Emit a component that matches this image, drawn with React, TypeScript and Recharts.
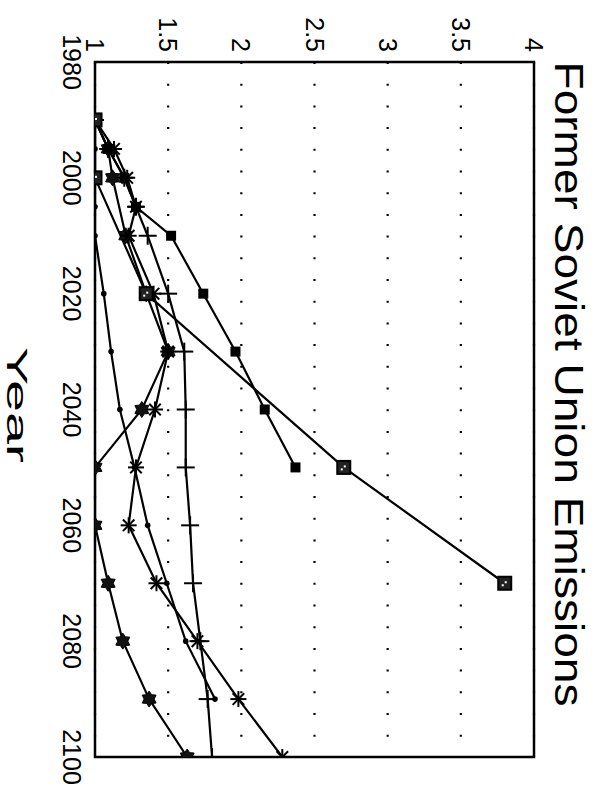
import React from 'react';
import { LineChart, Line, XAxis, YAxis, CartesianGrid, ReferenceArea } from 'recharts';

// Chart is laid out landscape (791 x 595) and turned a quarter clockwise onto the page.
const W = 791;
const H = 595;
const PLOT_LEFT = 62;
const PLOT_TOP = 61;
const PLOT_RIGHT = 757;
const PLOT_BOTTOM = 500;
const FONT = '"Liberation Sans", Arial, Helvetica, sans-serif';

const yearTicks = [1980, 2000, 2020, 2040, 2060, 2080, 2100];
const valueTicks = [1, 1.5, 2, 2.5, 3, 3.5, 4];

// emissions relative to 1990
const bigSquareYears = [1990, 2000, 2020, 2050, 2070];
const bigSquareValues = [1.0, 1.0, 1.35, 2.7, 3.8];

const squareYears = [1990, 1995, 2000, 2005, 2010, 2020, 2030, 2040, 2050];
const squareValues = [1.0, 1.09, 1.2, 1.28, 1.52, 1.74, 1.96, 2.16, 2.37];

const hexYears = [1990, 1995, 2000, 2010, 2020, 2030, 2040, 2050, 2060, 2070, 2080, 2090, 2100];
const hexValues = [1.0, 1.09, 1.12, 1.21, 1.35, 1.5, 1.32, 1.0, 1.0, 1.09, 1.19, 1.37, 1.63];

const starYears = [1990, 1995, 2000, 2005, 2010, 2020, 2030, 2040, 2050, 2060, 2070, 2080, 2090, 2100];
const starValues = [1.0, 1.13, 1.22, 1.28, 1.23, 1.4, 1.5, 1.41, 1.28, 1.23, 1.42, 1.7, 1.98, 2.28];

const dotYears = [1990, 1995, 2000, 2005, 2010, 2020, 2030, 2040, 2050, 2060, 2070, 2080, 2090];
const dotValues = [1.0, 1.0, 1.0, 1.0, 1.0, 1.06, 1.11, 1.17, 1.27, 1.36, 1.49, 1.62, 1.82];

const plusYears = [1990, 1995, 2000, 2005, 2010, 2020, 2030, 2040, 2050, 2060, 2070, 2080, 2090, 2100];
const plusValues = [1.0, 1.09, 1.2, 1.28, 1.36, 1.5, 1.61, 1.62, 1.62, 1.65, 1.67, 1.72, 1.77, 1.8];

const toRows = (years: number[], values: number[]) =>
  years.map((year, i) => ({ year, value: values[i] }));

type MarkerKind = 'bigSquare' | 'square' | 'hex' | 'star' | 'dot' | 'plus';

const Marker = ({ cx, cy, kind }: { cx: number; cy: number; kind: MarkerKind }) => {
  if (cx == null || cy == null) return null;
  switch (kind) {
    case 'bigSquare':
      return (
        <g>
          <rect x={cx - 6.5} y={cy - 6.5} width={13} height={13} fill="#222" stroke="#000" strokeWidth={2} />
          <rect x={cx - 2} y={cy - 2} width={2} height={2} fill="#fff" />
          <rect x={cx + 1} y={cy + 1} width={2} height={2} fill="#fff" />
        </g>
      );
    case 'square':
      return <rect x={cx - 5} y={cy - 5} width={10} height={10} fill="#000" />;
    case 'hex': {
      const pts: string[] = [];
      for (let i = 0; i < 12; i++) {
        const r = i % 2 === 0 ? 8 : 5;
        const a = (Math.PI / 6) * i;
        pts.push(`${cx + r * Math.cos(a)},${cy + r * Math.sin(a)}`);
      }
      return <polygon points={pts.join(' ')} fill="#111" stroke="#000" strokeWidth={1} />;
    }
    case 'star': {
      const r = 8;
      const d = r * 0.72;
      return (
        <g stroke="#000" strokeWidth={2}>
          <line x1={cx - r} y1={cy} x2={cx + r} y2={cy} />
          <line x1={cx} y1={cy - r} x2={cx} y2={cy + r} />
          <line x1={cx - d} y1={cy - d} x2={cx + d} y2={cy + d} />
          <line x1={cx - d} y1={cy + d} x2={cx + d} y2={cy - d} />
        </g>
      );
    }
    case 'dot':
      return <circle cx={cx} cy={cy} r={2.8} fill="#000" />;
    case 'plus':
      return (
        <g stroke="#000" strokeWidth={2}>
          <line x1={cx - 9} y1={cy} x2={cx + 9} y2={cy} />
          <line x1={cx} y1={cy - 9} x2={cx} y2={cy + 9} />
        </g>
      );
    default:
      return null;
  }
};

const series: { name: string; kind: MarkerKind; rows: { year: number; value: number }[] }[] = [
  { name: 'dot', kind: 'dot', rows: toRows(dotYears, dotValues) },
  { name: 'plus', kind: 'plus', rows: toRows(plusYears, plusValues) },
  { name: 'hex', kind: 'hex', rows: toRows(hexYears, hexValues) },
  { name: 'star', kind: 'star', rows: toRows(starYears, starValues) },
  { name: 'square', kind: 'square', rows: toRows(squareYears, squareValues) },
  { name: 'bigSquare', kind: 'bigSquare', rows: toRows(bigSquareYears, bigSquareValues) },
];

const YearTick = (props: any) => (
  <text x={props.x} y={PLOT_BOTTOM + 32} textAnchor="middle" fontSize={25} fontFamily={FONT} fill="#000">
    {props.payload.value}
  </text>
);

const ValueTick = (props: any) => (
  <text x={52} y={props.y} textAnchor="end" dominantBaseline="central" fontSize={25} fontFamily={FONT} fill="#000">
    {String(props.payload.value)}
  </text>
);

export default function App() {
  return (
    <div style={{ position: 'absolute', left: 0, top: 0, width: H, height: W, background: '#fff', overflow: 'hidden' }}>
      <div
        style={{
          position: 'absolute',
          left: 0,
          top: 0,
          width: W,
          height: H,
          transformOrigin: '0 0',
          transform: `translateX(${H}px) rotate(90deg)`,
        }}
      >
        <LineChart
          width={W}
          height={H}
          margin={{ top: PLOT_TOP, right: W - PLOT_RIGHT, bottom: 0, left: 0 }}
        >
          <CartesianGrid
            vertical={false}
            stroke="#000"
            strokeWidth={2.2}
            strokeDasharray="2 19.7"
          />
          <XAxis
            type="number"
            dataKey="year"
            domain={[1980, 2100]}
            ticks={yearTicks}
            height={H - PLOT_BOTTOM}
            axisLine={false}
            tickLine={false}
            tick={<YearTick />}
            allowDataOverflow
          />
          <YAxis
            type="number"
            dataKey="value"
            domain={[1, 4]}
            ticks={valueTicks}
            width={PLOT_LEFT}
            axisLine={false}
            tickLine={false}
            tick={<ValueTick />}
            allowDataOverflow
          />
          <ReferenceArea x1={1980} x2={2100} y1={1} y2={4} fill="none" stroke="#000" strokeWidth={2.5} />
          {series.map((s) => (
            <Line
              key={s.name}
              data={s.rows}
              dataKey="value"
              stroke="#000"
              strokeWidth={2.2}
              isAnimationActive={false}
              dot={(p: any) => <Marker key={`${s.name}-${p.index}`} cx={p.cx} cy={p.cy} kind={s.kind} />}
              activeDot={false}
            />
          ))}
        </LineChart>
        <svg width={W} height={H} style={{ position: 'absolute', left: 0, top: 0, pointerEvents: 'none' }}>
          <text
            x={384}
            y={40}
            textAnchor="middle"
            fontSize={40}
            fontFamily={FONT}
            textLength={645}
            lengthAdjust="spacingAndGlyphs"
            fill="#000"
          >
            Former Soviet Union Emissions
          </text>
          <text
            x={405}
            y={588}
            textAnchor="middle"
            fontSize={30}
            fontFamily={FONT}
            textLength={116}
            lengthAdjust="spacingAndGlyphs"
            fill="#000"
          >
            Year
          </text>
        </svg>
      </div>
    </div>
  );
}
